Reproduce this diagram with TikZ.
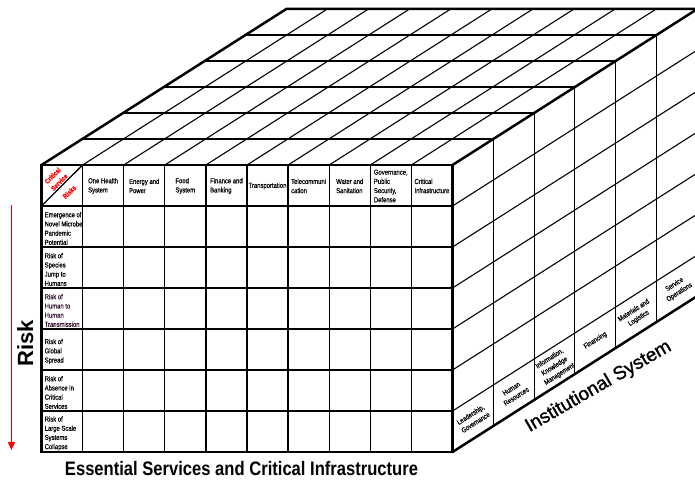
\documentclass[tikz,border=0pt]{standalone}
\usepackage{fontspec}
\usepackage{graphicx}
\usetikzlibrary{arrows.meta}
\setmainfont{Liberation Sans}
\newfontfamily\narrowsf[FakeStretch=0.82,FakeBold=0.4]{Liberation Sans}
\newfontfamily\heavysf[FakeBold=1.3]{Liberation Sans}
\definecolor{riskred}{RGB}{255,0,0}
\definecolor{plum}{RGB}{55,15,45}

\begin{document}
\begin{tikzpicture}[x=1pt,y=-1pt,
  grid/.style={line width=1.1pt},
  fgrid/.style={line width=1.3pt},
  edge/.style={line width=2.5pt, line join=miter},
  small/.style={font=\narrowsf\fontsize{7.2}{9.2}\selectfont, inner sep=0pt},
  colhead/.style={small, align=left},
  rowhead/.style={small, align=left, anchor=west},
  sidelab/.style={small, align=center, rotate=32.5},
  corner/.style={font=\narrowsf\bfseries\fontsize{7}{9.4}\selectfont, text=riskred, inner sep=0pt, rotate=45, align=center},
]
\useasboundingbox (0,0) rectangle (695,481);

% cube corners
\coordinate (FTL) at (41.5,165);
\coordinate (FTR) at (452.5,165);
\coordinate (FBR) at (452.5,452);
\coordinate (FBL) at (41.5,452);
\coordinate (BTL) at (286.3,9);
\coordinate (BTR) at (697.3,9);
\coordinate (BBR) at (697.3,296);

\begin{scope}
\clip (0,0) rectangle (695,481);
% front face: columns and rows
\foreach \i in {1,...,9} \draw[fgrid] ({41.5+41.1*\i},165) -- ({41.5+41.1*\i},452);
\foreach \r in {1,...,6} \draw[fgrid] (41.5,{165+41*\r}) -- (452.5,{165+41*\r});
\draw[fgrid] (FTL |- 0,206) -- (82.6,165);
% top face
\foreach \j in {1,...,5} \draw[grid] ({41.5+40.8*\j},{165-26*\j}) -- ++(411,0);
\foreach \i in {1,...,9} \draw[grid] ({41.5+41.1*\i},165) -- ++(244.8,-156);
% side face
\foreach \j in {1,...,5} \draw[grid] ({452.5+40.8*\j},{165-26*\j}) -- ++(0,287);
\foreach \r in {1,...,6} \draw[grid] (452.5,{165+41*\r}) -- ++(244.8,-156);
% outer edges
\draw[edge] (FTL) rectangle (FBR);
\draw[edge] (FTL) -- (BTL) -- (BTR) -- (BBR) -- (FBR);
\draw[edge] (FTR) -- (BTR);
\end{scope}

% corner cell
\node[corner] (cs) at (56,179) {Critical\\Service};
\node[corner] (rk) at (69.5,192) {Risks};

% column headings
\node[colhead] (c1) at (103.1,186) {One Health\\System};
\node[colhead] (c2) at (144.2,186) {Energy and\\Power};
\node[colhead] (c3) at (185.3,186) {Food\\System};
\node[colhead] (c4) at (226.4,186) {Finance and\\Banking};
\node[colhead] (c5) at (267.5,186) {Transportation};
\node[colhead] (c6) at (308.6,186) {Telecommuni\\cation};
\node[colhead] (c7) at (349.7,186) {Water and\\Sanitation};
\node[colhead] (c8) at (390.8,186) {Governance,\\Public\\Security,\\Defense};
\node[colhead] (c9) at (431.9,186) {Critical\\Infrastructure};

% row headings
\node[rowhead] (r1) at (44.5,228.5) {Emergence of\\Novel Microbe\\Pandemic\\Potential};
\node[rowhead] (r2) at (44.5,269.5) {Risk of\\Species\\Jump to\\Humans};
\node[rowhead, text=plum] (r3) at (44.5,310.5) {Risk of\\Human to\\Human\\Transmission};
\node[rowhead] (r4) at (44.5,351.5) {Risk of\\Global\\Spread};
\node[rowhead] (r5) at (44.5,392.5) {Risk of\\Absence in\\Critical\\Services};
\node[rowhead] (r6) at (44.5,433.5) {Risk of\\Large Scale\\Systems\\Collapse};

% side face labels
\node[sidelab] (s1) at (473,418.5) {Leadership,\\Governance};
\node[sidelab] (s2) at (513.8,392.5) {Human\\Resources};
\node[sidelab] (s3) at (554.6,366.5) {Information,\\Knowledge\\Management};
\node[sidelab] (s4) at (595.4,340.5) {Financing};
\node[sidelab] (s5) at (636.2,314.5) {Materials and\\Logistics};
\node[sidelab] (s6) at (677,288.5) {Service\\Operations};

% risk axis
\coordinate (ra) at (11.5,205);
\coordinate (rb) at (11.5,450);
\draw[riskred, line width=1.8pt, -{Triangle[length=8pt,width=7pt]}] (ra) -- (rb);
\node[font=\bfseries\fontsize{22}{26}\selectfont, rotate=90, anchor=base west, inner sep=0pt] (risk) at (33,367) {Risk};

% axis titles
\node[font=\bfseries\fontsize{19.5}{22}\selectfont, anchor=base, inner sep=0pt] (ess) at (241.5,475)
  {\resizebox{353pt}{\height}{Essential Services and Critical Infrastructure}};
\node[font=\heavysf\fontsize{19}{22}\selectfont, rotate=30, anchor=base, inner sep=0pt] (inst) at (601,391) {Institutional System};
\end{tikzpicture}
\end{document}
